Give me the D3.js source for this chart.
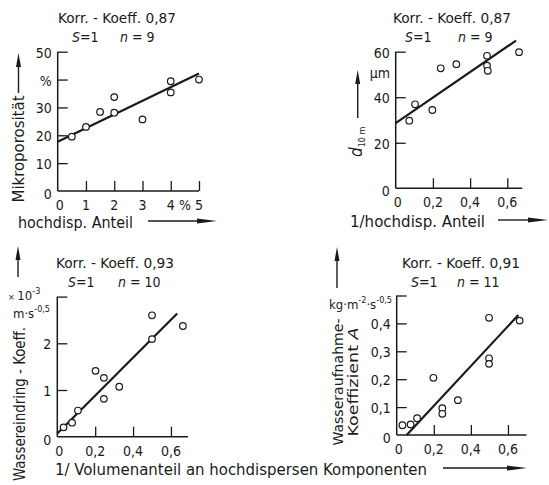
<!DOCTYPE html>
<html><head><meta charset="utf-8">
<script src="https://cdn.jsdelivr.net/npm/d3@7"></script>
<style>
html,body{margin:0;padding:0;background:#fff;}
svg text{font-family:"DejaVu Sans Condensed","Liberation Sans Narrow","DejaVu Sans",sans-serif;font-stretch:condensed;fill:#1a1a1a;}
</style></head>
<body>
<svg id="c" width="549" height="485"></svg>
<script>
// ---- Data ----
// Panel 1: Mikroporosität vs hochdisp. Anteil
const p1X = [0.5, 1.0, 1.5, 2.0, 2.0, 3.0, 4.0, 4.0, 5.0];
const p1Y = [19.5, 23.0, 28.4, 33.7, 28.1, 25.7, 39.4, 35.4, 40.0];
const p1LineX = [0, 5];
const p1LineY = [17.7, 42.2];
const p1XTicks = [0, 1, 2, 3, 4, 5];
const p1YTicks = [0, 10, 20, 30, 40, 50];
const p1YLabels = ["0", "10", "20", "30", "%", "50"];

// Panel 2: d10m vs 1/hochdisp. Anteil
const p2X = [0.073, 0.104, 0.197, 0.242, 0.326, 0.491, 0.491, 0.495, 0.663];
const p2Y = [29.7, 36.9, 34.4, 52.7, 54.5, 58.2, 53.9, 51.6, 59.8];
const p2LineX = [0, 0.647];
const p2LineY = [28.6, 64.9];
const p2XTicks = [0, 0.2, 0.4, 0.6];
const p2XLabels = ["0", "0,2", "0,4", "0,6"];
const p2YTicks = [0, 20, 40, 60];

// Panel 3: Wassereindring-Koeff. vs 1/Volumenanteil
const p3X = [0.033, 0.078, 0.109, 0.202, 0.246, 0.246, 0.327, 0.5, 0.5, 0.663];
const p3Y = [0.20, 0.30, 0.56, 1.41, 1.26, 0.81, 1.07, 2.09, 2.60, 2.37];
const p3LineX = [0, 0.633];
const p3LineY = [0.07, 2.64];
const p3XTicks = [0, 0.2, 0.4, 0.6];
const p3XLabels = ["0", "0,2", "0,4", "0,6"];
const p3YTicks = [0, 1, 2, 3];
const p3YLabels = ["0", "1", "2", ""];

// Panel 4: Wasseraufnahme-Koeffizient A vs 1/Volumenanteil
const p4X = [0.031, 0.075, 0.110, 0.198, 0.246, 0.246, 0.330, 0.498, 0.498, 0.498, 0.663];
const p4Y = [0.035, 0.038, 0.060, 0.205, 0.096, 0.076, 0.125, 0.420, 0.275, 0.255, 0.410];
const p4LineX = [0.054, 0.656];
const p4LineY = [0.0, 0.43];
const p4XTicks = [0, 0.2, 0.4, 0.6];
const p4XLabels = ["0", "0,2", "0,4", "0,6"];
const p4YTicks = [0, 0.1, 0.2, 0.3, 0.4, 0.5];
const p4YLabels = ["0", "0,1", "0,2", "0,3", "0,4", ""];

const titles = ["Korr. - Koeff. 0,87", "Korr. - Koeff. 0,87", "Korr. - Koeff. 0,93", "Korr. - Koeff. 0,91"];
const nValues = ["9", "9", "10", "11"];

// ---- Drawing ----
const svg = d3.select("#c");
const ink = "#1a1a1a";
const FS = 14;

function txt(parent, x, y, s, opts = {}) {
  const t = parent.append("text").attr("x", x).attr("y", y).attr("font-size", opts.size || FS)
    .attr("text-anchor", opts.anchor || "start").text(s);
  if (opts.len) t.attr("textLength", opts.len).attr("lengthAdjust", "spacingAndGlyphs");
  return t;
}
function rtxt(parent, cx, cy, s, size, len) {
  const t = parent.append("text").attr("transform", `translate(${cx},${cy}) rotate(-90)`)
    .attr("font-size", size).attr("text-anchor", "middle").text(s);
  if (len) t.attr("textLength", len).attr("lengthAdjust", "spacingAndGlyphs");
  return t;
}

function arrow(x1, y1, x2, y2, headLen, headW) {
  const dx = x2 - x1, dy = y2 - y1, L = Math.hypot(dx, dy);
  const ux = dx / L, uy = dy / L, px = -uy, py = ux;
  const bx = x2 - ux * headLen, by = y2 - uy * headLen;
  svg.append("line").attr("x1", x1).attr("y1", y1).attr("x2", bx).attr("y2", by)
    .attr("stroke", ink).attr("stroke-width", 1.4);
  svg.append("path")
    .attr("d", `M${x2},${y2}L${bx + px * headW / 2},${by + py * headW / 2}L${bx - px * headW / 2},${by - py * headW / 2}Z`)
    .attr("fill", ink);
}

function panel(cfg) {
  const x = d3.scaleLinear().domain(cfg.xDomain).range(cfg.xRange);
  const y = d3.scaleLinear().domain(cfg.yDomain).range(cfg.yRange);
  const g = svg.append("g");
  const xa = d3.axisTop(x).tickValues(cfg.xTicks.filter(v => v !== 0)).tickSize(10).tickFormat("");
  g.append("g").attr("transform", `translate(0,${cfg.yRange[0]})`).call(xa)
    .call(s => { s.select(".domain").remove(); s.selectAll("line").attr("stroke", ink).attr("stroke-width", 1.3); });
  g.append("line").attr("x1", cfg.xRange[0]).attr("x2", cfg.xRange[1])
    .attr("y1", cfg.yRange[0]).attr("y2", cfg.yRange[0]).attr("stroke", ink).attr("stroke-width", 1.5);
  const ya = d3.axisRight(y).tickValues(cfg.yTicks.filter(v => v !== 0)).tickSize(10).tickFormat("");
  g.append("g").attr("transform", `translate(${cfg.xRange[0]},0)`).call(ya)
    .call(s => { s.select(".domain").remove(); s.selectAll("line").attr("stroke", ink).attr("stroke-width", 1.3); });
  g.append("line").attr("x1", cfg.xRange[0]).attr("x2", cfg.xRange[0])
    .attr("y1", cfg.yRange[0]).attr("y2", cfg.yRange[1]).attr("stroke", ink).attr("stroke-width", 1.5);
  cfg.xTicks.forEach((v, i) => {
    txt(g, x(v) + (v === 0 ? 2 : 0), cfg.yRange[0] + 19, cfg.xLabels[i], { anchor: "middle" });
  });
  cfg.yTicks.forEach((v, i) => {
    txt(g, cfg.xRange[0] - 6, v === 0 ? cfg.yRange[0] + 8 : y(v) + 6, cfg.yLabels[i], { anchor: "end" });
  });
  g.append("line").attr("x1", x(cfg.lineX[0])).attr("y1", y(cfg.lineY[0]))
    .attr("x2", x(cfg.lineX[1])).attr("y2", y(cfg.lineY[1]))
    .attr("stroke", ink).attr("stroke-width", 2.2);
  g.selectAll("circle.pt").data(cfg.xs.map((v, i) => [v, cfg.ys[i]])).enter()
    .append("circle").attr("cx", d => x(d[0])).attr("cy", d => y(d[1])).attr("r", 3.3)
    .attr("fill", "#fff").attr("stroke", ink).attr("stroke-width", 1.2);
  txt(g, cfg.title[0], cfg.title[1], cfg.titleText, { len: 118 });
  const st = txt(g, cfg.sPos[0], cfg.title[1] + 19, "");
  st.append("tspan").attr("font-style", "italic").text("S");
  st.append("tspan").text("=1");
  const st2 = txt(g, cfg.sPos[1], cfg.title[1] + 19, "");
  st2.append("tspan").attr("font-style", "italic").text("n");
  st2.append("tspan").text(" = " + cfg.n);
  return { x, y, g };
}

// Panel 1
const P1 = panel({ xDomain: [0, 5], xRange: [57.7, 199], yDomain: [0, 50], yRange: [191, 51.7],
  xTicks: p1XTicks, xLabels: ["0", "1", "2", "3", "4", "5"], yTicks: p1YTicks, yLabels: p1YLabels,
  xs: p1X, ys: p1Y, lineX: p1LineX, lineY: p1LineY, titleText: titles[0], n: nValues[0],
  title: [58, 23], sPos: [72, 120] });
txt(P1.g, P1.x(4.5), 191 + 19, "%", { anchor: "middle" });
txt(P1.g, 18, 228, "hochdisp. Anteil", { size: 15, len: 115 });
arrow(148, 221, 217, 221, 20, 5);
rtxt(P1.g, 24, 149, "Mikroporosität", 15, 107);
arrow(18.5, 93, 18.5, 53, 14, 5);

// Panel 2
const P2 = panel({ xDomain: [0, 0.68], xRange: [395.7, 522.2], yDomain: [0, 60], yRange: [188.3, 51.7],
  xTicks: p2XTicks, xLabels: p2XLabels, yTicks: p2YTicks, yLabels: p2YTicks.map(String),
  xs: p2X, ys: p2Y, lineX: p2LineX, lineY: p2LineY, titleText: titles[1], n: nValues[1],
  title: [393, 23], sPos: [405, 458] });
txt(P2.g, 390, 78, "μm", { anchor: "end" });
const d10 = P2.g.append("text").attr("transform", "translate(362,157) rotate(-90)").attr("font-size", 17);
d10.append("tspan").attr("font-style", "italic").text("d");
d10.append("tspan").attr("font-size", 9).attr("dy", 3).text("10 m");
arrow(357.7, 118, 357.7, 70, 14, 5);
txt(P2.g, 350, 227, "1/hochdisp. Anteil", { size: 15, len: 135 });
arrow(498, 220, 548, 220, 20, 5);

// Panel 3
const P3 = panel({ xDomain: [0, 0.69], xRange: [57.3, 188], yDomain: [0, 3], yRange: [436.7, 296.6],
  xTicks: p3XTicks, xLabels: p3XLabels, yTicks: p3YTicks, yLabels: p3YLabels,
  xs: p3X, ys: p3Y, lineX: p3LineX, lineY: p3LineY, titleText: titles[2], n: nValues[2],
  title: [56, 268], sPos: [68, 118] });
const u3a = txt(P3.g, 8, 300, "", { size: 13 });
u3a.append("tspan").attr("font-size", 9).text("× ");
u3a.append("tspan").text("10");
u3a.append("tspan").attr("font-size", 9).attr("dy", -6).text("-3");
const u3b = txt(P3.g, 13, 318, "", { size: 13 });
u3b.append("tspan").text("m·s");
u3b.append("tspan").attr("font-size", 9).attr("dy", -6).text("-0,5");
rtxt(P3.g, 25, 404, "Wassereindring - Koeff.", 15, 154);
arrow(18, 277, 18, 246, 14, 5);

// Panel 4
const P4 = panel({ xDomain: [0, 0.7], xRange: [396.7, 526.5], yDomain: [0, 0.5], yRange: [435, 295.5],
  xTicks: p4XTicks, xLabels: p4XLabels, yTicks: p4YTicks, yLabels: p4YLabels,
  xs: p4X, ys: p4Y, lineX: p4LineX, lineY: p4LineY, titleText: titles[3], n: nValues[3],
  title: [402, 268], sPos: [411, 457] });
const u4 = txt(P4.g, 392, 309, "", { anchor: "end", size: 13 });
u4.append("tspan").text("kg·m");
u4.append("tspan").attr("font-size", 9).attr("dy", -6).text("-2");
u4.append("tspan").attr("dy", 6).text("·s");
u4.append("tspan").attr("font-size", 9).attr("dy", -6).text("-0,5");
rtxt(P4.g, 343, 382, "Wasseraufnahme-", 13.5, 127);
const k4 = rtxt(P4.g, 358, 382, "", 13.5, 109);
k4.append("tspan").text("Koeffizient ");
k4.append("tspan").attr("font-style", "italic").text("A");
arrow(337, 288, 337, 247, 14, 5);

// shared x label of the lower panels
txt(svg, 55, 475, "1/ Volumenanteil an hochdispersen Komponenten", { size: 15, len: 372 });
arrow(443, 468, 527, 468, 20, 5);
</script>
</body></html>
